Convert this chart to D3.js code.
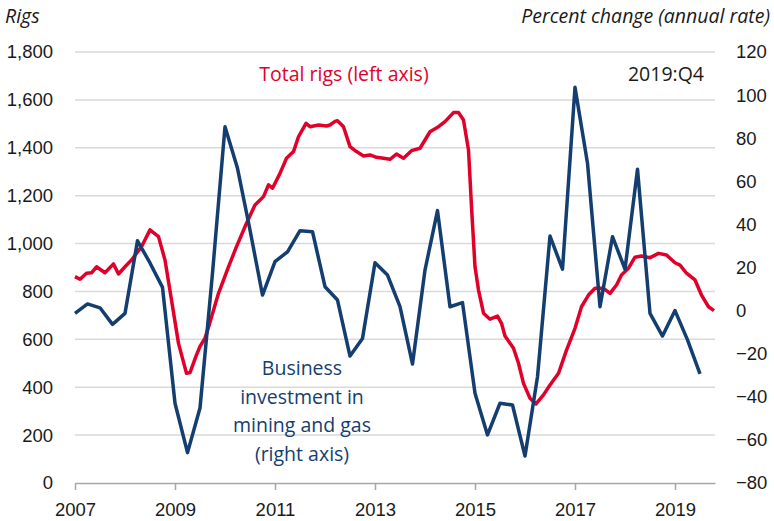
<!DOCTYPE html>
<html>
<head>
<meta charset="utf-8">
<script src="https://cdn.jsdelivr.net/npm/d3@7"></script>
<style>
  html, body { margin: 0; padding: 0; background: #fff; }
  svg { display: block; font-family: "Open Sans", sans-serif; }
</style>
</head>
<body>
<svg id="chart"></svg>
<script>
// Total rigs (left axis); dates as decimal years
const rigDates = [
  2007.00, 2007.10, 2007.23, 2007.33, 2007.43, 2007.60, 2007.77, 2007.87,
  2008.00, 2008.13, 2008.33, 2008.50, 2008.67, 2008.80, 2008.93,
  2009.07, 2009.23, 2009.30, 2009.43, 2009.50, 2009.60, 2009.67, 2009.87,
  2010.07, 2010.23, 2010.43, 2010.60, 2010.77, 2010.87, 2010.95,
  2011.10, 2011.23, 2011.37, 2011.47, 2011.62, 2011.70, 2011.87,
  2012.03, 2012.10, 2012.20, 2012.25, 2012.37, 2012.50, 2012.63, 2012.77, 2012.90,
  2013.03, 2013.17, 2013.30, 2013.43, 2013.57, 2013.73, 2013.90,
  2014.10, 2014.27, 2014.40, 2014.57, 2014.67, 2014.77, 2014.87, 2014.93,
  2015.00, 2015.07, 2015.17, 2015.30, 2015.45, 2015.53, 2015.60, 2015.77, 2015.87, 2015.97,
  2016.10, 2016.22, 2016.37, 2016.50, 2016.67, 2016.83,
  2017.00, 2017.13, 2017.27, 2017.40, 2017.57, 2017.70, 2017.83, 2017.93,
  2018.07, 2018.20, 2018.33, 2018.50, 2018.67, 2018.83,
  2019.00, 2019.10, 2019.23, 2019.40, 2019.53, 2019.67, 2019.78
];
const rigValues = [
  862, 851, 876, 878, 903, 878, 915, 873,
  903, 931, 987, 1057, 1029, 931, 764,
  583, 458, 461, 535, 570, 605, 650, 792,
  903, 987, 1085, 1161, 1196, 1245, 1231,
  1293, 1356, 1384, 1446, 1502, 1488, 1495,
  1491, 1495, 1510, 1513, 1488, 1405, 1384, 1366, 1370,
  1360, 1356, 1352, 1374, 1356, 1388, 1398,
  1467, 1488, 1509, 1547, 1547, 1516, 1391, 1154,
  903, 806, 709, 684, 697, 667, 614, 563, 500, 416,
  354, 330, 368, 409, 458, 555,
  646, 736, 785, 813, 813, 792, 827, 869,
  897, 943, 948, 941, 959, 952,
  920, 910, 876, 848, 785, 736, 720
];

// Business investment in mining and gas, % change annual rate (right axis), quarterly from 2007:Q1
const invStart = 2007;
const invValues = [
  -1.3, 3.1, 1.3, -6.4,
  -1.3, 32.4, 22.1, 10.8,
  -43, -65.9, -45.2, 17.4,
  85.3, 66, 37.4, 7.2,
  22.7, 27.3, 37.1, 36.6,
  11.1, 4.9, -21.1, -12.9,
  22.2, 16.5, 1.8, -24.8,
  18.8, 46.4, 1.8, 3.7,
  -38.4, -57.7, -43, -43.8,
  -67.5, -30.7, 34.6, 19.2,
  103.6, 68.4, 1.8, 34.3,
  19.2, 65.6, -1.3, -11.8,
  0, -13.6, -29.4
];

const leftTicks = [0, 200, 400, 600, 800, 1000, 1200, 1400, 1600, 1800];
const rightTicks = [-80, -60, -40, -20, 0, 20, 40, 60, 80, 100, 120];
const yearTicks = [2007, 2009, 2011, 2013, 2015, 2017, 2019];

const width = 774, height = 521;
const margin = { top: 52, right: 59, bottom: 38, left: 75 };
const innerW = width - margin.left - margin.right;
const innerH = height - margin.top - margin.bottom;

const red = "#e1002a";
const navy = "#143e70";
const gridColor = "#d9d9d9";
const textColor = "#1a1a1a";
const tickFont = "18.5px";
const labelFont = "19.5px";

const svg = d3.select("#chart")
  .attr("width", width)
  .attr("height", height)
  .attr("viewBox", `0 0 ${width} ${height}`);

const g = svg.append("g")
  .attr("transform", `translate(${margin.left},${margin.top})`);

const x = d3.scaleLinear().domain([2007, 2019.8]).range([0, innerW]);
const yL = d3.scaleLinear().domain([0, 1800]).range([innerH, 0]);
const yR = d3.scaleLinear().domain([-80, 120]).range([innerH, 0]);

// Grid lines
g.selectAll(".grid")
  .data(leftTicks.filter(d => d > 0))
  .join("line")
  .attr("x1", 0).attr("x2", innerW)
  .attr("y1", d => yL(d)).attr("y2", d => yL(d))
  .attr("stroke", gridColor).attr("stroke-width", 1.5);

// Axes
const styleAxis = sel => sel
  .call(s => s.selectAll(".tick text").attr("fill", textColor).style("font-size", tickFont));

g.append("g")
  .call(d3.axisLeft(yL).tickValues(leftTicks).tickFormat(d3.format(",")).tickSize(0).tickPadding(22))
  .call(s => s.select(".domain").remove())
  .call(styleAxis);

g.append("g")
  .attr("transform", `translate(${innerW},0)`)
  .call(d3.axisRight(yR).tickValues(rightTicks).tickSize(0).tickPadding(21))
  .call(s => s.select(".domain").remove())
  .call(styleAxis);

g.append("g")
  .attr("transform", `translate(0,${innerH})`)
  .call(d3.axisBottom(x).tickValues(yearTicks).tickFormat(d3.format("d")).tickSize(7).tickSizeOuter(0).tickPadding(13))
  .call(s => s.select(".domain").attr("stroke", "#a6a6a6").attr("stroke-width", 1.5))
  .call(s => s.selectAll(".tick line").attr("stroke", "#a6a6a6").attr("stroke-width", 1.5))
  .call(styleAxis);

// Lines
const rigLine = d3.line()
  .x((d, i) => x(rigDates[i]))
  .y(d => yL(d));

g.append("path")
  .datum(rigValues)
  .attr("fill", "none")
  .attr("stroke", red)
  .attr("stroke-width", 3.5)
  .attr("stroke-linejoin", "round")
  .attr("d", rigLine);

const invLine = d3.line()
  .x((d, i) => x(invStart + i * 0.25))
  .y(d => yR(d));

g.append("path")
  .datum(invValues)
  .attr("fill", "none")
  .attr("stroke", navy)
  .attr("stroke-width", 3.5)
  .attr("stroke-linejoin", "round")
  .attr("d", invLine);

// Axis titles
svg.append("text")
  .attr("x", 5).attr("y", 23)
  .attr("fill", textColor)
  .style("font-size", labelFont).style("font-style", "italic")
  .text("Rigs");

svg.append("text")
  .attr("x", 770).attr("y", 23)
  .attr("text-anchor", "end")
  .attr("fill", textColor)
  .style("font-size", labelFont).style("font-style", "italic")
  .text("Percent change (annual rate)");

// Annotations
svg.append("text")
  .attr("x", 344).attr("y", 81)
  .attr("text-anchor", "middle")
  .attr("fill", red)
  .style("font-size", labelFont)
  .text("Total rigs (left axis)");

svg.append("text")
  .attr("x", 704).attr("y", 81)
  .attr("text-anchor", "end")
  .attr("fill", textColor)
  .style("font-size", labelFont)
  .text("2019:Q4");

const invLabel = ["Business", "investment in", "mining and gas", "(right axis)"];
svg.append("text")
  .attr("text-anchor", "middle")
  .attr("fill", navy)
  .style("font-size", labelFont)
  .selectAll("tspan")
  .data(invLabel)
  .join("tspan")
  .attr("x", 302)
  .attr("y", (d, i) => 375 + i * 28.5)
  .text(d => d);
</script>
</body>
</html>
